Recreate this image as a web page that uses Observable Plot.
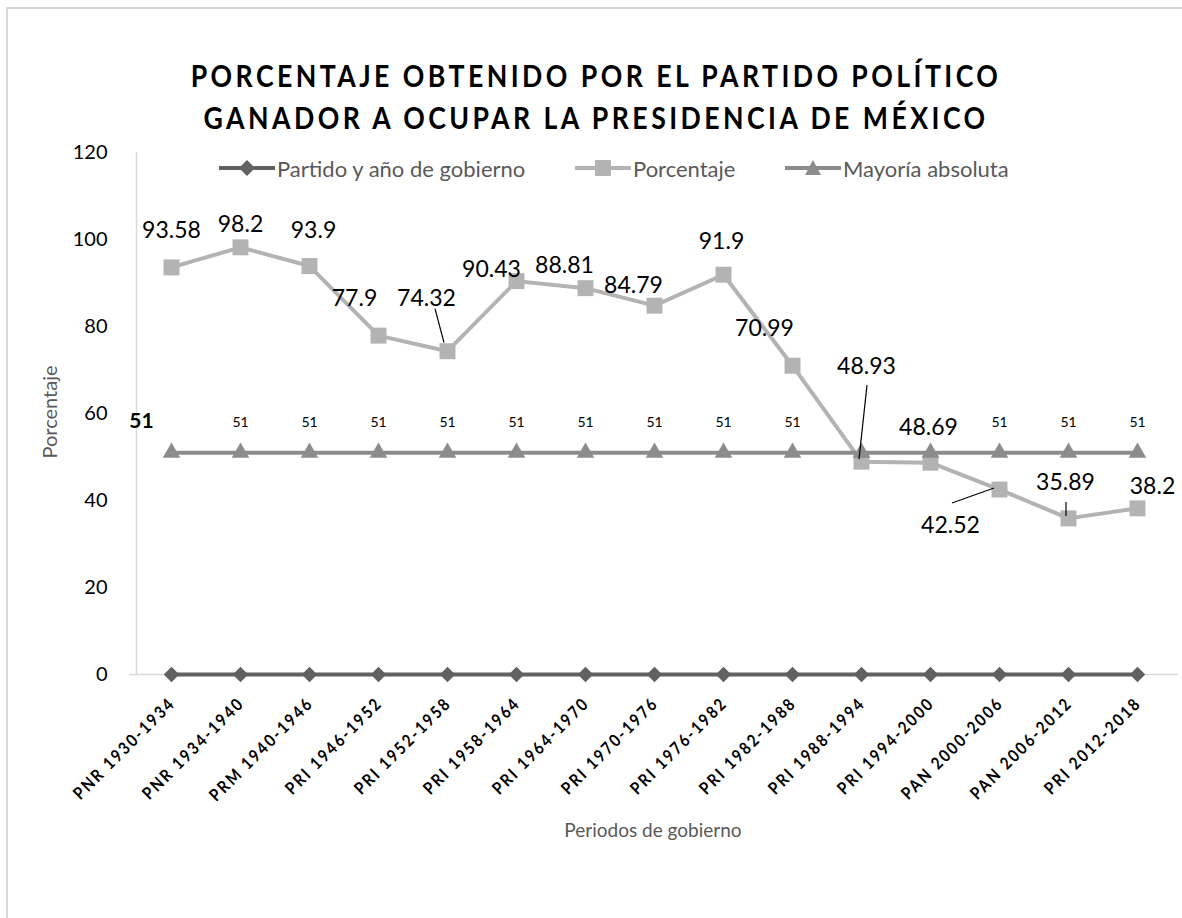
<!DOCTYPE html>
<html>
<head>
<meta charset="utf-8">
<script src="https://cdn.jsdelivr.net/npm/d3@7"></script>
<script src="https://cdn.jsdelivr.net/npm/@observablehq/plot@0.6"></script>
<style>
html, body { margin: 0; padding: 0; background: #fff; overflow: hidden; }
#wrap { position: relative; width: 1182px; height: 918px; font-family: Lato, "Open Sans", sans-serif; }
#border { position: absolute; left: 6px; top: 7px; width: 1250px; height: 1000px; border: 2px solid #d9d9d9; box-sizing: border-box; }
#title { position: absolute; left: 0; top: 54px; width: 1192px; text-align: center; font-weight: bold; font-size: 31px; letter-spacing: 4px; line-height: 42px; color: #000; transform: scaleX(0.86); transform-origin: 596px 0; }
.leg { position: absolute; top: 155px; height: 26px; display: flex; align-items: center; font-size: 22px; color: #595959; white-space: nowrap; }
.leg svg { margin-right: 2px; }
#ytitle { position: absolute; left: 49px; top: 412px; transform: translate(-50%, -50%) rotate(-90deg); font-size: 20px; color: #595959; white-space: nowrap; }
#xtitle { position: absolute; left: 653px; top: 829px; transform: translate(-50%, -50%); font-size: 19px; color: #595959; white-space: nowrap; }
#chart { position: absolute; left: 0; top: 0; }
#chart svg text { font-family: Lato, "Open Sans", sans-serif; }
g.xlab text { letter-spacing: 2.5px; }
</style>
</head>
<body>
<div id="wrap">
  <div id="border"></div>
  <div id="chart"></div>
  <div id="title">PORCENTAJE OBTENIDO POR EL PARTIDO POLÍTICO<br>GANADOR A OCUPAR LA PRESIDENCIA DE MÉXICO</div>
  <div id="legend"></div>
  <div id="ytitle">Porcentaje</div>
  <div id="xtitle">Periodos de gobierno</div>
</div>
<script>
// ---- data ----
const periodos = ["PNR 1930-1934", "PNR 1934-1940", "PRM 1940-1946", "PRI 1946-1952", "PRI 1952-1958",
  "PRI 1958-1964", "PRI 1964-1970", "PRI 1970-1976", "PRI 1976-1982", "PRI 1982-1988",
  "PRI 1988-1994", "PRI 1994-2000", "PAN 2000-2006", "PAN 2006-2012", "PRI 2012-2018"];
const partido = [0, 0, 0, 0, 0, 0, 0, 0, 0, 0, 0, 0, 0, 0, 0];
const porcentaje = [93.58, 98.2, 93.9, 77.9, 74.32, 90.43, 88.81, 84.79, 91.9, 70.99, 48.93, 48.69, 42.52, 35.89, 38.2];
const mayoria = [51, 51, 51, 51, 51, 51, 51, 51, 51, 51, 51, 51, 51, 51, 51];
const yTicks = [0, 20, 40, 60, 80, 100, 120];
const seriesNames = ["Partido y año de gobierno", "Porcentaje", "Mayoría absoluta"];

// ---- styling / label placement (pixels) ----
const colPartido = "#616161", colPct = "#b3b3b3", colMay = "#8c8c8c";
const pctLabelOffset = [
  [0, -37], [0, -23], [4, -35], [-24, -37], [-21, -53], [-25, -12], [-21, -23], [-21, -20],
  [-2, -33], [-28, -37], [5, -95], [-2, -35], [-49, 36], [-3, -36], [15, -22]
];
const leaderLines = [
  {i: 4, x1: -12, y1: -42, x2: -3, y2: -8},
  {i: 10, x1: 6, y1: -76, x2: -2, y2: -2},
  {i: 12, x1: -47, y1: 14, x2: -5, y2: -1},
  {i: 13, x1: -2, y1: -16, x2: -2, y2: -2}
];
const mayLabelHidden = [10, 11];

const rows = periodos.map((p, i) => ({p, i, partido: partido[i], pct: porcentaje[i], may: mayoria[i]}));

const pctLabelMarks = rows.map(r => Plot.text([r], {
  x: "p", y: "pct", text: d => String(d.pct),
  dx: pctLabelOffset[r.i][0], dy: pctLabelOffset[r.i][1],
  fontSize: 23, fill: "#000"
}));

function leaderMark(index, scales) {
  const g = d3.create("svg:g");
  for (const l of leaderLines) {
    const px = scales.x(periodos[l.i]), py = scales.y(porcentaje[l.i]);
    g.append("line")
      .attr("x1", px + l.x1).attr("y1", py + l.y1)
      .attr("x2", px + l.x2).attr("y2", py + l.y2)
      .attr("stroke", "#000").attr("stroke-width", 1.2);
  }
  return g.node();
}

const chart = Plot.plot({
  width: 1182,
  height: 918,
  marginTop: 152,
  marginBottom: 244,
  marginLeft: 129,
  marginRight: 4,
  style: {background: "transparent", fontFamily: "Lato, 'Open Sans', sans-serif"},
  x: {type: "point", domain: periodos, padding: 0.5, axis: null},
  y: {domain: [0, 120], axis: null},
  marks: [
    Plot.ruleY([0], {stroke: "#d9d9d9", strokeWidth: 1.5}),
    Plot.ruleX([periodos[0]], {y1: 0, y2: 120, dx: -35, stroke: "#d9d9d9", strokeWidth: 1.5}),
    Plot.axisY({ticks: yTicks, tickSize: 0, tickPadding: 22, fontSize: 20, label: null, color: "#000"}),
    Plot.text(periodos, {x: d => d, text: d => d, frameAnchor: "bottom", rotate: -45, textAnchor: "end",
      lineAnchor: "middle", dx: 1, dy: 26, fontSize: 17, fontWeight: "bold", fill: "#000", className: "xlab"}),
    // Partido y año de gobierno
    Plot.line(rows, {x: "p", y: "partido", stroke: colPartido, strokeWidth: 4}),
    Plot.dot(rows, {x: "p", y: "partido", symbol: "diamond2", r: 7, fill: colPartido, stroke: "none"}),
    // Porcentaje
    Plot.line(rows, {x: "p", y: "pct", stroke: colPct, strokeWidth: 4}),
    Plot.dot(rows, {x: "p", y: "pct", symbol: "square", r: 9, fill: colPct, stroke: "none"}),
    // Mayoría absoluta
    Plot.line(rows, {x: "p", y: "may", stroke: colMay, strokeWidth: 4}),
    Plot.dot(rows, {x: "p", y: "may", symbol: "triangle", r: 6.5, fill: colMay, stroke: "none"}),
    // labels
    ...pctLabelMarks,
    leaderMark,
    Plot.text(rows.filter(d => d.i > 0 && !mayLabelHidden.includes(d.i)), {x: "p", y: "may", text: d => String(d.may), dy: -30, fontSize: 14, fill: "#000"}),
    Plot.text(rows.slice(0, 1), {x: "p", y: "may", text: d => String(d.may), dx: -30, dy: -31, fontSize: 21, fontWeight: "bold", fill: "#000"})
  ]
});
// condense x tick labels slightly along their baseline (narrow font look)
d3.select(chart).selectAll("g.xlab text").each(function() {
  const t = this.getAttribute("transform") || "";
  this.setAttribute("transform", t + " scale(0.87,1)");
});
document.getElementById("chart").appendChild(chart);

// ---- legend ----
const legendItems = [
  {name: seriesNames[0], color: colPartido, sym: "diamond", left: 219},
  {name: seriesNames[1], color: colPct, sym: "square", left: 575},
  {name: seriesNames[2], color: colMay, sym: "triangle", left: 785}
];
const legend = document.getElementById("legend");
for (const it of legendItems) {
  const div = document.createElement("div");
  div.className = "leg";
  div.style.left = it.left + "px";
  let shape = "";
  if (it.sym === "diamond") shape = `<path d="M28,5 L36,13 L28,21 L20,13 Z" fill="${it.color}"/>`;
  if (it.sym === "square") shape = `<rect x="20" y="5" width="16" height="16" fill="${it.color}"/>`;
  if (it.sym === "triangle") shape = `<path d="M28,5 L36,20 L20,20 Z" fill="${it.color}"/>`;
  div.innerHTML = `<svg width="56" height="26"><line x1="0" y1="13" x2="56" y2="13" stroke="${it.color}" stroke-width="4"/>${shape}</svg><span>${it.name}</span>`;
  legend.appendChild(div);
}
</script>
</body>
</html>
